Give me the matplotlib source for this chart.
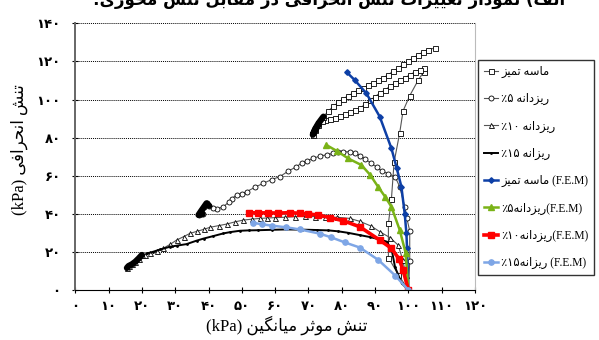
import numpy as np
import matplotlib
matplotlib.use("Agg")
import matplotlib.pyplot as plt

# --- Persian text helpers (matplotlib does no Arabic shaping / bidi) ---
FORMS = {
    'ا': ('\uFE8D', '\uFE8E', None, None),
    'ب': ('\uFE8F', '\uFE90', '\uFE91', '\uFE92'),
    'ت': ('\uFE95', '\uFE96', '\uFE97', '\uFE98'),
    'ث': ('\uFE99', '\uFE9A', '\uFE9B', '\uFE9C'),
    'ح': ('\uFEA1', '\uFEA2', '\uFEA3', '\uFEA4'),
    'د': ('\uFEA9', '\uFEAA', None, None),
    'ر': ('\uFEAD', '\uFEAE', None, None),
    'ز': ('\uFEAF', '\uFEB0', None, None),
    'س': ('\uFEB1', '\uFEB2', '\uFEB3', '\uFEB4'),
    'ش': ('\uFEB5', '\uFEB6', '\uFEB7', '\uFEB8'),
    'غ': ('\uFECD', '\uFECE', '\uFECF', '\uFED0'),
    'ف': ('\uFED1', '\uFED2', '\uFED3', '\uFED4'),
    'ق': ('\uFED5', '\uFED6', '\uFED7', '\uFED8'),
    'ل': ('\uFEDD', '\uFEDE', '\uFEDF', '\uFEE0'),
    'م': ('\uFEE1', '\uFEE2', '\uFEE3', '\uFEE4'),
    'ن': ('\uFEE5', '\uFEE6', '\uFEE7', '\uFEE8'),
    'ه': ('\uFEE9', '\uFEEA', '\uFEEB', '\uFEEC'),
    'و': ('\uFEED', '\uFEEE', None, None),
    'ی': ('\uFBFC', '\uFBFD', '\uFBFE', '\uFBFF'),
    'گ': ('\uFB92', '\uFB93', '\uFB94', '\uFB95'),
}
MIRROR = {'(': ')', ')': '('}


def shape(text):
    out = []
    for i, ch in enumerate(text):
        f = FORMS.get(ch)
        if f is None:
            out.append(ch)
            continue
        prev = text[i - 1] if i > 0 else ''
        nxt = text[i + 1] if i + 1 < len(text) else ''
        join_prev = prev in FORMS and FORMS[prev][2] is not None
        join_next = f[2] is not None and nxt in FORMS
        if join_prev and join_next:
            out.append(f[3])
        elif join_prev:
            out.append(f[1])
        elif join_next:
            out.append(f[2])
        else:
            out.append(f[0])
    return ''.join(out)


def rtl(text):
    return ''.join(MIRROR.get(c, c) for c in shape(text)[::-1])


FA_DIGITS = str.maketrans('0123456789', '۰۱۲۳۴۵۶۷۸۹')


def fa_num(v):
    return str(v).translate(FA_DIGITS)


# --- data: mean effective stress p' (kPa) vs deviator stress q (kPa) ---
sand_p = [100, 97, 94, 94, 94.9, 95.7, 97.4, 98.4, 100.4, 102.9, 104.6, 104.8,
          103.5, 102, 100.5, 99, 97.5, 96, 94.5, 93, 91.5, 90, 88.5, 87, 85.5,
          84, 82.5, 81, 79.5, 78, 76.5, 75, 74, 73, 72, 71.3,
          72, 73, 74.5, 76, 77.5, 79, 80.5, 82, 83.5, 85, 86.5, 88, 89.5, 91,
          92.5, 94, 95.5, 97, 98.5, 100, 101.5, 103, 104.5, 106, 107.9]
sand_q = [0, 8, 17, 35, 47.6, 67, 82.6, 94, 102, 110, 114.6, 116.4,
          115.5, 114.5, 113, 111.5, 110, 108.5, 107, 105, 103.5, 101.5, 99.5,
          97.5, 95.5, 94.3, 93.2, 92.2, 91.2, 90.5, 89.8, 89.2, 88.5, 86.5, 84, 81.5,
          84.5, 87.5, 91, 94, 96.5, 98.5, 100.5, 102, 103.5, 105, 106, 107.5,
          108.5, 110, 111.5, 113, 115, 116.5, 118.5, 120, 121.8, 123.5, 125,
          126.2, 127]

fine5_p = [100, 100.4, 100.4, 99.5, 98.9, 97.4, 96, 94, 92, 90.5, 88.9, 87,
           85.4, 84, 82.4, 80.5, 79, 77.4, 75.5, 73.4, 71.4, 69.5, 68, 66.4,
           64, 61.4, 59, 56.4, 54, 51.4, 50, 48.4, 47, 46, 44.4, 42.5, 41.4,
           40.2, 39.4, 38.6, 37.8, 37, 38.2]
fine5_q = [0, 15, 31, 38, 43.7, 54.2, 59.5, 61, 62.5, 64.5, 66.5, 68.7,
           70.5, 71.8, 72.6, 72.5, 72.2, 71.7, 71, 70.3, 69.1, 67.8, 66.8, 64.7,
           62.5, 59.5, 58, 56, 54, 51.6, 50.5, 49.9, 48, 46, 43.7, 42.5, 42.9,
           44.2, 45.5, 43.5, 41.5, 39.4, 39.8]

fine10_p = [100, 99.2, 98.3, 96.9, 94.5, 91.5, 88.9, 85.5, 82.4, 78.5, 74.9,
            72, 69, 66, 63, 60, 57.5, 55.4, 53, 50.4, 48, 45.4, 43, 40.4,
            38.5, 36.5, 34.4, 32.5, 30.4, 28.5, 26.4, 24.5, 22.4, 21, 20,
            19, 18, 17, 16, 15.5]
fine10_q = [0, 8, 16, 23.6, 27.5, 30.5, 33.5, 36, 37.6, 38.2, 38.1,
            38.5, 38.8, 38.5, 38.2, 38, 37.8, 37.6, 37.2, 36.7, 35.8, 34.6,
            33.8, 32.9, 31.8, 30.8, 29.7, 28, 26.2, 24, 21.9, 20.6, 19.3, 18.3,
            18.4, 16.5, 14.8, 13.5, 12.6, 11.6]

fine15_p = [100, 98, 96, 95, 93.5, 91.5, 88.5, 85.5, 82, 79, 76, 72.5, 68,
            63.4, 59, 55, 52, 49.4, 46.5, 44.4, 41.4, 38.5, 36.4, 33.4, 30.5,
            28.4, 25.5, 23.4, 21.5]
fine15_q = [0, 3.5, 12, 21, 25.4, 26.5, 27.8, 28.8, 30, 30.8, 31.3, 31.5,
            31.7, 31.8, 31.6, 31.4, 31.3, 31.1, 30.4, 29.7, 28.3, 27, 25.9,
            24.1, 23.3, 22.7, 21.3, 20.1, 19.2]

fem0_p = [81.5, 83.9, 87.4, 91.4, 94.9, 96.5, 97.9, 98.9, 99.4, 99.6, 100]
fem0_q = [114.3, 110.2, 103.2, 91, 74.4, 64, 54.2, 40, 30, 21.9, 0]

fem5_p = [75.4, 78.5, 81.9, 85.9, 88.5, 90.9, 93, 94.9, 97.4, 99.2, 100]
fem5_q = [76.1, 73, 69.1, 65.6, 60.5, 54.2, 49, 43.7, 31.5, 19.3, 0]

fem10_p = [52.2, 55, 58, 61, 64.4, 67.4, 70, 72.9, 76.4, 80.4, 85.4, 91.4,
           94.9, 97.2, 98.4, 100]
fem10_q = [40.6, 40.5, 40.5, 40.4, 40.6, 40.3, 39.9, 39.4, 38, 36.4, 33.2,
           26.2, 21.9, 16.3, 10.5, 0]

fem15_p = [53.4, 56, 59, 63.4, 67.4, 73.4, 76.9, 80.9, 85.4, 90.9, 96.1, 100]
fem15_q = [35.3, 34.5, 33.8, 32.9, 31.8, 29.6, 27.6, 25, 22.3, 15.9, 7.5, 0]

labels = [
    rtl('ماسه تمیز'),
    '٪' + fa_num(5) + ' ' + rtl('ریزدانه'),
    '٪' + fa_num(10) + ' ' + rtl('ریزدانه'),
    '٪' + fa_num(15) + ' ' + rtl('ریزانه'),
    rtl('ماسه تمیز') + ' (F.E.M)',
    '٪' + fa_num(5) + rtl('ریزدانه') + '(F.E.M)',
    '٪' + fa_num(10) + rtl('ریزدانه') + '(F.E.M)',
    '٪' + fa_num(15) + rtl('ریزانه') + ' (F.E.M)',
]

x_ticks = list(range(0, 121, 10))
y_ticks = list(range(0, 141, 20))

SERIF = ['Liberation Serif', 'DejaVu Sans']

fig = plt.figure(figsize=(5.99, 3.40), dpi=100)
ax = fig.add_axes([0.1257, 0.147, 0.6673, 0.7844])

# experimental curves
ax.plot(sand_p, sand_q, color='#555555', lw=0.8, marker='s', ms=3.6,
        mfc='white', mec='black', mew=0.6, label=labels[0])
ax.plot(fine5_p, fine5_q, color='#555555', lw=0.8, marker='o', ms=3.6,
        mfc='white', mec='black', mew=0.6, label=labels[1])
ax.plot(fine10_p, fine10_q, color='#555555', lw=0.8, marker='^', ms=3.6,
        mfc='white', mec='black', mew=0.6, label=labels[2])
ax.plot(fine15_p, fine15_q, color='black', lw=1.4, marker='.', ms=2,
        label=labels[3])

# dense start-of-test clusters
ax.plot(sand_p[33:39], sand_q[33:39], color='black', lw=4.5, solid_capstyle='round')
ax.plot(fine5_p[37:], fine5_q[37:], color='black', lw=4.5, solid_capstyle='round')
ax.plot(fine10_p[34:], fine10_q[34:], color='black', lw=4.5, solid_capstyle='round')

# FEM curves
ax.plot(fem0_p, fem0_q, color='#0d3fa6', lw=1.8, marker='D', ms=2.8,
        label=labels[4])
ax.plot(fem5_p, fem5_q, color='#7ab317', lw=1.8, marker='^', ms=4.5,
        label=labels[5])
ax.plot(fem10_p, fem10_q, color='#ff0000', lw=2.6, marker='s', ms=4.5,
        label=labels[6])
ax.plot(fem15_p, fem15_q, color='#7ea6e6', lw=1.8, marker='o', ms=3.8,
        label=labels[7])

ax.set_xlim(0, 120)
ax.set_ylim(0, 140)
ax.set_xticks(x_ticks)
ax.set_yticks(y_ticks)
ax.set_xticklabels([fa_num(v) for v in x_ticks], family='DejaVu Sans',
                   fontsize=9.5, fontweight='bold')
ax.set_yticklabels([fa_num(v) for v in y_ticks], family='DejaVu Sans',
                   fontsize=9.5, fontweight='bold')
ax.tick_params(axis='both', direction='inout', length=5, width=0.8)
ax.tick_params(axis='x', pad=5)
ax.tick_params(axis='y', pad=8)

for y in y_ticks[1:]:
    ax.axhline(y, color='black', lw=0.7, ls=(0, (1, 1)), clip_on=False, zorder=0)

ax.spines['top'].set_visible(False)
ax.spines['left'].set_color('#666666')
ax.spines['left'].set_linewidth(1.4)
ax.spines['bottom'].set_color('black')
ax.spines['right'].set_color('#bbbbbb')

fig.text(0.478, 1 - 325 / 340, '(kPa) ' + rtl('تنش موثر میانگین'),
         ha='center', va='center', fontsize=12, family=SERIF)
fig.text(0.033, 1 - 150 / 340, '(kPa) ' + rtl('تنش انحرافی'),
         ha='center', va='center', rotation=90, fontsize=12, family=SERIF)
fig.text(0.55, 1.0, rtl('الف) نمودار تغییرات تنش انحرافی در مقابل تنش محوری:'),
         ha='center', va='center', fontsize=12, fontweight='bold',
         family='DejaVu Sans')

leg = ax.legend(loc='upper left', bbox_to_anchor=(478 / 599, 1 - 60 / 340),
                bbox_transform=fig.transFigure, frameon=True, fancybox=False,
                edgecolor='black', handlelength=1.2, handletextpad=0.3,
                labelspacing=1.32, borderpad=0.5, borderaxespad=0,
                prop={'family': SERIF, 'size': 8.3})
leg.get_frame().set_linewidth(1.0)

fig.savefig('out.png', dpi=100)
